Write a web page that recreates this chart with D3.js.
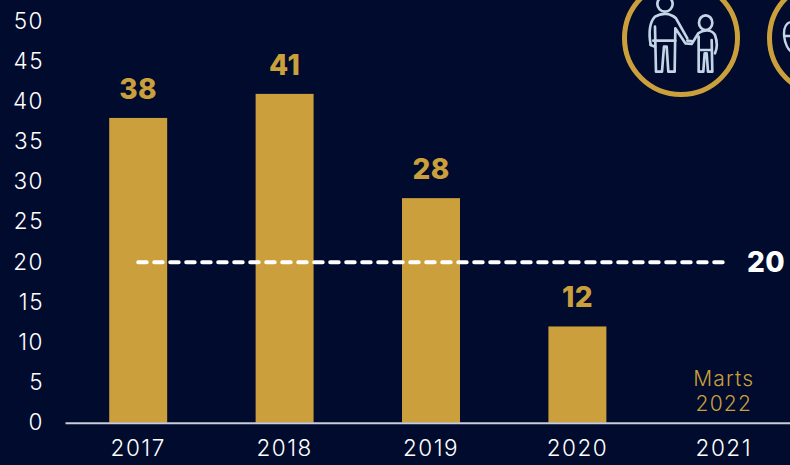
<!DOCTYPE html>
<html>
<head>
<meta charset="utf-8">
<script src="https://cdn.jsdelivr.net/npm/d3@7"></script>
<style>
  html, body { margin: 0; padding: 0; background: #000b2e; }
  svg { display: block; }
  text { font-family: Inter, sans-serif; }
</style>
</head>
<body>
<div id="wrapper"></div>
<script>
const years = ["2017", "2018", "2019", "2020", "2021"]
const counts = [38, 41, 28, 12, null]
const yTicks = [0, 5, 10, 15, 20, 25, 30, 35, 40, 45, 50]
const target = 20
const noteLines = ["Marts", "2022"]

const dimensions = { width: 790, height: 465 }
const gold = "#cba03c"

const wrapper = d3.select("#wrapper")
  .append("svg")
  .attr("width", dimensions.width)
  .attr("height", dimensions.height)

const xScale = d3.scaleBand()
  .domain(years)
  .range([65, 797])
  .paddingInner(0.604)
  .paddingOuter(0.302)

const yScale = d3.scaleLinear()
  .domain([0, 50])
  .range([422.7, 21.7])

const barData = years.map((y, i) => ({ year: y, value: counts[i] })).filter(d => d.value !== null)

// bars
wrapper.selectAll(".bar")
  .data(barData)
  .enter()
  .append("rect")
  .attr("class", "bar")
  .attr("x", d => xScale(d.year))
  .attr("y", d => yScale(d.value))
  .attr("width", xScale.bandwidth())
  .attr("height", d => yScale(0) - yScale(d.value))
  .attr("fill", gold)

wrapper.selectAll(".bar-label")
  .data(barData)
  .enter()
  .append("text")
  .attr("class", "bar-label")
  .attr("x", d => xScale(d.year) + xScale.bandwidth() / 2)
  .attr("y", d => yScale(d.value) - 19)
  .attr("text-anchor", "middle")
  .attr("fill", gold)
  .style("font-size", "28px")
  .style("font-weight", 800)
  .style("letter-spacing", "0.4px")
  .text(d => d.value)

// axes
const yAxis = d3.axisLeft(yScale).tickValues(yTicks).tickSize(0).tickPadding(0)
wrapper.append("g")
  .attr("transform", "translate(44,-0.5)")
  .call(yAxis)
  .call(g => g.select(".domain").remove())
  .call(g => g.selectAll("text")
    .attr("fill", "#fff")
    .style("font-size", "22.5px")
    .style("font-weight", 300)
    .style("letter-spacing", "1.5px")
    .style("font-family", "Inter, sans-serif"))

const xAxis = d3.axisBottom(xScale).tickSize(0).tickPadding(17)
wrapper.append("g")
  .attr("transform", `translate(0,${yScale(0)})`)
  .call(xAxis)
  .call(g => g.select(".domain").attr("stroke", "#c9cdd6").attr("stroke-width", 2))
  .call(g => g.selectAll("text")
    .attr("fill", "#fff")
    .style("font-size", "22.5px")
    .style("font-weight", 300)
    .style("letter-spacing", "1.5px")
    .style("font-family", "Inter, sans-serif"))

// target line
wrapper.append("line")
  .attr("x1", xScale("2017") + xScale.bandwidth() / 2)
  .attr("x2", 724)
  .attr("y1", yScale(target))
  .attr("y2", yScale(target))
  .attr("stroke", "#fff")
  .attr("stroke-width", 4)
  .attr("stroke-linecap", "round")
  .attr("stroke-dasharray", "8.5 7.5")

wrapper.append("text")
  .attr("x", 747)
  .attr("y", yScale(target) + 10)
  .attr("fill", "#fff")
  .style("font-size", "28px")
  .style("font-weight", 800)
  .style("letter-spacing", "0.4px")
  .text(target)

wrapper.selectAll(".note")
  .data(noteLines)
  .enter()
  .append("text")
  .attr("class", "note")
  .attr("x", xScale("2021") + xScale.bandwidth() / 2)
  .attr("y", (d, i) => 386 + i * 25)
  .attr("text-anchor", "middle")
  .attr("fill", gold)
  .style("font-size", "21px")
  .style("font-weight", 300)
  .style("letter-spacing", "1.2px")
  .text(d => d)

// icons, drawn in zoomed units
wrapper.selectAll(".ring")
  .data([681, 826])
  .enter()
  .append("circle")
  .attr("class", "ring")
  .attr("cx", d => d)
  .attr("cy", 38)
  .attr("r", 56.5)
  .attr("fill", "none")
  .attr("stroke", gold)
  .attr("stroke-width", 5)

const people = wrapper.append("g")
  .attr("transform", "translate(600,0) scale(0.3333)")
  .attr("fill", "none")
  .attr("stroke", "#c3d5e6")
  .attr("stroke-width", 8)
  .attr("stroke-linecap", "round")
  .attr("stroke-linejoin", "round")

const iconPaths = [
  "M172,12 A22,22 0 0 0 218,12 A22,22 0 0 0 172,12",
  "M152,135 C146,100 146,70 165,50 C185,38 210,38 228,55 L262,115",
  "M165,80 L168,215 L186,215 L192,140 L200,140 L205,215 L224,215 L226,85 L256,130 L275,132 L295,100 C310,88 335,88 345,105 C352,125 352,145 345,160",
  "M160,122 L226,122",
  "M152,135 L165,140",
  "M297,68 A20,22 0 1 0 337,68 A20,22 0 1 0 297,68",
  "M296,110 L296,215 L310,215 L314,160 L320,160 L324,215 L337,215 L335,120",
  "M300,150 L334,150",
  "M262,122 L278,124"
]
people.selectAll("path")
  .data(iconPaths)
  .enter()
  .append("path")
  .attr("d", d => d)

// edge of the second icon
wrapper.append("path")
  .attr("d", "M790,22 C780,26 784,48 792,52 M785,36 L792,36")
  .attr("fill", "none")
  .attr("stroke", "#c3d5e6")
  .attr("stroke-width", 2.4)
</script>
</body>
</html>
